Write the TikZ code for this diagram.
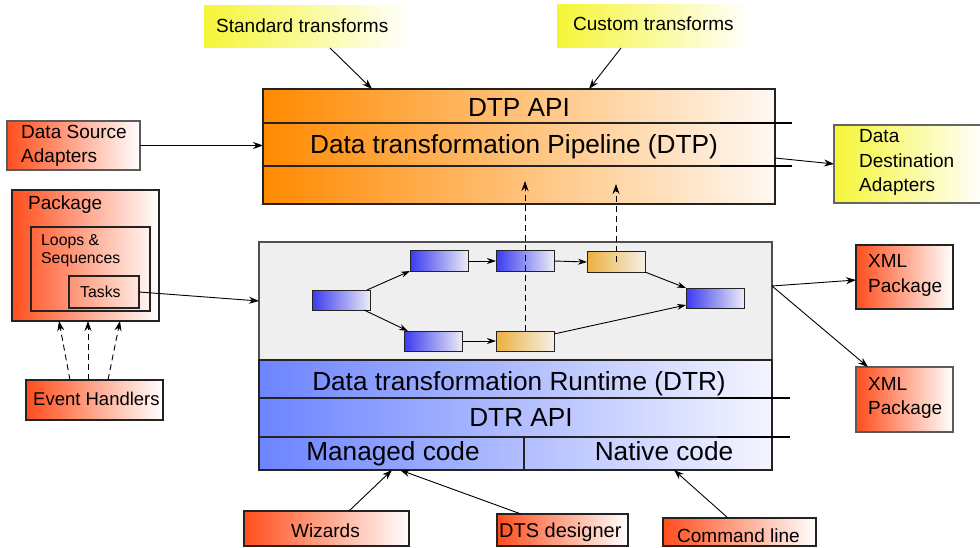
\documentclass[tikz,border=0pt]{standalone}
\usepackage{fontspec}
\setmainfont{Liberation Sans}
\usetikzlibrary{arrows.meta,calc}

\definecolor{dtpOrange}{RGB}{255,138,0}
\definecolor{dtpEnd}{RGB}{255,248,242}
\definecolor{dtrBlue}{RGB}{108,132,255}
\definecolor{dtrEnd}{RGB}{244,245,255}
\definecolor{toolRed}{RGB}{255,78,28}
\definecolor{toolEnd}{RGB}{255,255,255}
\definecolor{noteYellow}{RGB}{245,245,55}
\definecolor{taskBlue}{RGB}{58,58,240}
\definecolor{taskBlueEnd}{RGB}{236,236,246}
\definecolor{taskOrange}{RGB}{236,176,62}
\definecolor{taskOrangeEnd}{RGB}{244,240,232}
\definecolor{panelGray}{RGB}{239,239,239}
\definecolor{edge}{RGB}{35,35,35}

\begin{document}
\begin{tikzpicture}[x=1pt,y=-1pt,
  box/.style={draw=edge,line width=1.2pt,anchor=north west,inner sep=0pt,outer sep=0pt},
  redbox/.style={box,left color=toolRed,right color=toolEnd},
  yelbox/.style={anchor=north west,inner sep=0pt,outer sep=0pt,left color=noteYellow,right color=white},
  tblue/.style={draw=edge,line width=1pt,anchor=north west,inner sep=0pt,outer sep=0pt,
    minimum width=58pt,minimum height=20pt,left color=taskBlue,right color=taskBlueEnd},
  torange/.style={tblue,left color=taskOrange,right color=taskOrangeEnd},
  big/.style={inner sep=0pt,anchor=base,font=\fontsize{26.2}{30}\selectfont},
  lbl/.style={inner sep=0pt,anchor=base west,font=\fontsize{19}{23}\selectfont},
  sml/.style={inner sep=0pt,anchor=base west,font=\fontsize{15.8}{19}\selectfont},
  arr/.style={draw=black,line width=0.9pt,-{Stealth[length=10pt,width=7pt]}},
  sarr/.style={draw=black,line width=0.9pt,-{Stealth[length=9pt,width=6pt]}},
  darr/.style={arr,dash pattern=on 6pt off 4pt},
  stub/.style={draw=black,line width=2pt},
]
% canvas
\fill[white] (0,0) rectangle (980,548);
\useasboundingbox (0,0) rectangle (980,548);

% transform notes on top
\node[yelbox,minimum width=206pt,minimum height=42pt] (std) at (204,6) {};
\node[lbl] (stdT) at (216,33) {Standard transforms};
\node[yelbox,minimum width=193pt,minimum height=43pt] (cus) at (557,5) {};
\node[lbl] (cusT) at (573,31) {Custom transforms};

% pipeline block
\node[box,minimum width=512pt,minimum height=115pt,left color=dtpOrange,right color=dtpEnd] (dtp) at (263,89) {};
\draw[line width=1.2pt,edge] (263,123) -- (775,123) (263,166) -- (775,166);
\coordinate (dtpS1) at (720,123); \coordinate (dtpE1) at (792,123);
\coordinate (dtpS2) at (720,166); \coordinate (dtpE2) at (792,166);
\draw[stub] (dtpS1) -- (dtpE1) (dtpS2) -- (dtpE2);
\node[big] (dtpApi) at (519,117) {DTP API};
\node[big] (dtpName) at (514,154) {Data transformation Pipeline (DTP)};

% adapters
\node[redbox,draw=edge!75,minimum width=133pt,minimum height=49pt] (dsa) at (7,121) {};
\node[lbl] (dsa1) at (21,139) {Data Source};
\node[lbl] (dsa2) at (21,163) {Adapters};
\node[box,draw=edge!70,minimum width=150pt,minimum height=78pt,left color=noteYellow,right color=white] (dda) at (834,125) {};
\node[lbl] (dda1) at (859,143) {Data};
\node[lbl] (dda2) at (859,168) {Destination};
\node[lbl] (dda3) at (859,192) {Adapters};

% package
\node[redbox,minimum width=147pt,minimum height=131pt] (pkg) at (12,190) {};
\node[lbl] (pkgT) at (28,210) {Package};
\node[box,minimum width=119pt,minimum height=84pt] (loops) at (31,227) {};
\node[sml] (loops1) at (41,245) {Loops \&};
\node[sml] (loops2) at (41,264) {Sequences};
\node[box,minimum width=70pt,minimum height=32pt] (tasks) at (69,276) {};
\node[sml] (tasksT) at (80,297) {Tasks};
\node[redbox,minimum width=137pt,minimum height=40pt] (evh) at (26,380) {};
\node[lbl,font=\fontsize{18.5}{22}\selectfont] (evhT) at (33,405) {Event Handlers};

% runtime block
\node[box,draw=edge!80,minimum width=513pt,minimum height=118pt,fill=panelGray] (panel) at (259,242) {};
\node[box,minimum width=513pt,minimum height=110pt,left color=dtrBlue,right color=dtrEnd] (dtr) at (259,360) {};
\draw[line width=1.2pt,edge] (259,398) -- (772,398) (259,437) -- (772,437) (524,437) -- (524,470);
\coordinate (dtrS1) at (718,398); \coordinate (dtrE1) at (790,398);
\coordinate (dtrS2) at (718,437); \coordinate (dtrE2) at (790,437);
\draw[stub] (dtrS1) -- (dtrE1) (dtrS2) -- (dtrE2);
\node[big] (dtrName) at (519,390) {Data transformation Runtime (DTR)};
\node[big] (dtrApi) at (521,426) {DTR API};
\node[big] (managed) at (393,460) {Managed code};
\node[big] (native) at (664,460) {Native code};

% task flow inside the runtime
\node[tblue] (tA) at (312,290) {};
\node[tblue] (tB) at (410,251) {};
\node[tblue] (tC) at (496,251) {};
\node[torange] (tD) at (587,252) {};
\node[tblue] (tE) at (686,288) {};
\node[tblue] (tF) at (404,331) {};
\node[torange] (tG) at (496,331) {};
\draw[sarr] ([xshift=-3pt]tA.north east) -- (tB.south west);
\draw[sarr] ([xshift=-6pt]tA.south east) -- ([xshift=4pt]tF.north west);
\draw[sarr] (tB.east) -- (tC.west);
\draw[sarr] (tC.east) -- (tD.west);
\draw[sarr] (tF.east) -- (tG.west);
\draw[sarr] (tD.south east) -- (tE.north west);
\draw[sarr] ([yshift=-3pt]tG.north east) -- ([yshift=3pt]tE.south west);
\draw[darr] (tG.north) -- ($(tG.north |- dtp.south)+(0,-23)$);
\draw[darr] (tD.center) -- ($(tD.center |- dtp.south)+(0,-20)$);

% packages saved from the runtime
\node[redbox,minimum width=97pt,minimum height=64pt] (xml1) at (856,245) {};
\node[lbl] (xml1a) at (868,268) {XML};
\node[lbl] (xml1b) at (868,292) {Package};
\node[redbox,draw=edge!75,minimum width=97pt,minimum height=65pt] (xml2) at (856,367) {};
\node[lbl] (xml2a) at (868,390) {XML};
\node[lbl] (xml2b) at (868,414) {Package};

% tools at the bottom
\node[redbox,minimum width=165pt,minimum height=35pt] (wiz) at (244,511) {};
\node[lbl] (wizT) at (291,537) {Wizards};
\node[redbox,minimum width=131pt,minimum height=32pt] (dts) at (497,514) {};
\node[lbl,font=\fontsize{20}{24}\selectfont] (dtsT) at (499,537) {DTS designer};
\node[redbox,minimum width=153pt,minimum height=28pt] (cmd) at (663,518) {};
\node[lbl] (cmdT) at (677,542) {Command line};

% connectors
\draw[arr] ([xshift=126pt]std.south west) -- ([xshift=109pt]dtp.north west);
\draw[arr] ([xshift=64pt]cus.south west) -- ([xshift=326pt]dtp.north west);
\draw[arr] (dsa.east) -- (dsa.east -| dtp.west);
\draw[arr] ([yshift=-69pt]dtp.north east) -- (dda.west);
\draw[arr] (tasks.east) -- (panel.west);
\draw[darr] ([xshift=44pt]evh.north west) -- ([xshift=47pt]pkg.south west);
\draw[darr] ([xshift=62pt]evh.north west) -- ([xshift=76pt]pkg.south west);
\draw[darr] ([xshift=82pt]evh.north west) -- ([xshift=108pt]pkg.south west);
\draw[arr] ([yshift=-44pt]panel.north east) -- ([yshift=-35pt]xml1.north west);
\draw[arr] ([yshift=-44pt]panel.north east) -- ([xshift=12pt]xml2.north west);
\draw[arr] ([xshift=105pt]wiz.north west) -- ([xshift=133pt]dtr.south west);
\draw[arr] ([xshift=24pt]dts.north west) -- ([xshift=141pt]dtr.south west);
\draw[arr] ([xshift=65pt]cmd.north west) -- ([xshift=415pt]dtr.south west);
\end{tikzpicture}
\end{document}
